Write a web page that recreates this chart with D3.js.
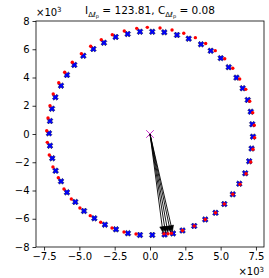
<!DOCTYPE html>
<html>
<head>
<meta charset="utf-8">
<script src="https://cdn.jsdelivr.net/npm/d3@7"></script>
<style>
  body { margin: 0; background: #fff; }
  svg text { font-family: "DejaVu Sans", sans-serif; }
</style>
</head>
<body>
<div id="chart"></div>
<script>
// values in units of 10^3
const blueX = [-0.71, -1.58, -2.43, -3.26, -4.01, -4.72, -5.36, -5.88, -6.30, -6.70, -6.94, -7.08, -7.15,
    -7.08, -6.92, -6.68, -6.30, -5.88, -5.29, -4.67, -3.94, -3.19, -2.41, -1.56, -0.71, 0.16, 1.03, 1.63,
    2.30, 3.13, 3.91, 4.64, 5.26, 5.86, 6.32, 6.74, 7.02, 7.19, 7.29, 7.24, 7.13, 6.92, 6.56, 6.12, 5.57,
    5.01, 4.30, 3.61, 2.74, 1.91, 1.01, 0.16];
const blueY = [7.24, 7.08, 6.87, 6.46, 6.02, 5.54, 4.89, 4.18, 3.42, 2.60, 1.79, 0.92, 0.05,
    -0.83, -1.72, -2.60, -3.35, -4.13, -4.81, -5.45, -5.97, -6.42, -6.75, -7.03, -7.15, -7.15, -7.12, -7.04,
    -6.83, -6.51, -6.05, -5.58, -4.96, -4.27, -3.52, -2.78, -1.93, -1.03, -0.19, 0.69, 1.58, 2.41, 3.24, 3.99, 4.73,
    5.37, 5.89, 6.35, 6.75, 7.01, 7.20, 7.24];

const redX = [-0.94, -1.82, -2.67, -3.45, -4.20, -4.86, -5.50, -6.04, -6.46, -6.85, -7.08, -7.22, -7.31,
    -7.27, -7.13, -6.87, -6.49, -6.09, -5.57, -4.96, -4.23, -3.49, -2.69, -1.84, -0.99, 0.99, 1.27, 1.52,
    2.30, 3.13, 3.91, 4.64, 5.26, 5.86, 6.37, 6.80, 7.13, 7.29, 7.41, 7.38, 7.27, 7.06, 6.78, 6.35, 5.86,
    5.29, 4.62, 3.94, 3.21, 2.39, 1.56, 0.71, -0.19];
const redY = [7.48, 7.29, 7.03, 6.68, 6.21, 5.69, 5.08, 4.37, 3.63, 2.83, 2.00, 1.13, 0.23,
    -0.59, -1.49, -2.34, -3.09, -3.89, -4.60, -5.24, -5.78, -6.25, -6.66, -6.94, -7.08, -7.06, -7.06, -7.03,
    -6.83, -6.51, -6.05, -5.58, -4.96, -4.27, -3.56, -2.81, -1.98, -1.08, -0.26, 0.62, 1.51, 2.32, 3.16, 3.89, 4.65,
    5.33, 5.90, 6.41, 6.82, 7.13, 7.36, 7.50, 7.55];

const arrowX = [0.92, 1.10, 1.27, 1.45, 1.59];
const arrowY = [-6.98, -6.98, -6.96, -6.94, -6.90];

const xTicks = [-7.5, -5.0, -2.5, 0.0, 2.5, 5.0, 7.5];
const yTicks = [-8, -6, -4, -2, 0, 2, 4, 6, 8];

const width = 269;
const height = 278;
const margin = { top: 21, right: 5, bottom: 31, left: 36 };

const svg = d3.select('#chart')
    .append('svg')
    .attr('width', width)
    .attr('height', height);

const x = d3.scaleLinear().domain([-8.07, 8.07]).range([margin.left, width - margin.right]);
const y = d3.scaleLinear().domain([-8, 8]).range([height - margin.bottom, margin.top]);

const fmtMinus = s => s.replace('-', '\u2212');

// axes
const xAxis = d3.axisBottom(x).tickValues(xTicks).tickSize(3.5).tickPadding(2.5)
    .tickFormat(d => fmtMinus(d3.format('.1f')(d)));
const yAxis = d3.axisLeft(y).tickValues(yTicks).tickSize(3.5).tickPadding(3)
    .tickFormat(d => fmtMinus(String(d)));

const gx = svg.append('g').attr('transform', `translate(0,${y(-8)})`).call(xAxis);
const gy = svg.append('g').attr('transform', `translate(${x(-8.07)},0)`).call(yAxis);
[gx, gy].forEach(g => {
    g.select('.domain').remove();
    g.selectAll('.tick line').attr('stroke', '#000').attr('stroke-width', 0.8);
    g.selectAll('.tick text').attr('fill', '#000').attr('font-size', 10)
        .attr('font-family', '"DejaVu Sans", sans-serif');
});

// frame
svg.append('rect')
    .attr('x', x(-8.07)).attr('y', y(8))
    .attr('width', x(8.07) - x(-8.07)).attr('height', y(-8) - y(8))
    .attr('fill', 'none').attr('stroke', '#000').attr('stroke-width', 0.8);

// offset labels
svg.append('text').attr('x', x(-8.07)).attr('y', 16).attr('font-size', 10).text('\u00d710')
    .append('tspan').attr('font-size', 7).attr('dy', -4).text('3');
svg.append('text').attr('x', x(8.07)).attr('y', 275).attr('font-size', 10).attr('text-anchor', 'end')
    .text('\u00d710')
    .append('tspan').attr('font-size', 7).attr('dy', -3.5).text('3');

// title
const title = svg.append('text').attr('x', 150).attr('y', 14).attr('font-size', 10.5)
    .attr('text-anchor', 'middle');
title.append('tspan').text('I');
title.append('tspan').attr('font-size', 7).attr('dy', 2.5).text('\u0394\u2113');
title.append('tspan').attr('font-size', 5).attr('dy', 1.5).text('p');
title.append('tspan').attr('dy', -4).text(' = 123.81, C');
title.append('tspan').attr('font-size', 7).attr('dy', 2.5).text('\u0394\u2113');
title.append('tspan').attr('font-size', 5).attr('dy', 1.5).text('p');
title.append('tspan').attr('dy', -4).text(' = 0.08');

// blue filled X markers
const L = 3.1, a = 1.1;
const plus = [[-a, -L], [a, -L], [a, -a], [L, -a], [L, a], [a, a], [a, L], [-a, L], [-a, a], [-L, a], [-L, -a], [-a, -a]];
const xPath = 'M' + plus.map(p => p.join(',')).join('L') + 'Z';

const blue = blueX.map((v, i) => ({ x: v, y: blueY[i] }));
svg.append('g').selectAll('path').data(blue).enter()
    .append('path')
    .attr('d', xPath)
    .attr('transform', d => `translate(${x(d.x)},${y(d.y)}) rotate(45)`)
    .attr('fill', '#0000ff')
    .attr('stroke', '#000')
    .attr('stroke-width', 0.4);

// red dots
const red = redX.map((v, i) => ({ x: v, y: redY[i] }));
svg.append('g').selectAll('circle').data(red).enter()
    .append('circle')
    .attr('cx', d => x(d.x)).attr('cy', d => y(d.y))
    .attr('r', 1.7)
    .attr('fill', '#ff0000');

// origin marker
const ox = x(0), oy = y(0), m = 3.8;
svg.append('path')
    .attr('d', `M${ox - m},${oy - m}L${ox + m},${oy + m}M${ox - m},${oy + m}L${ox + m},${oy - m}`)
    .attr('stroke', '#cc33cc').attr('stroke-width', 1).attr('fill', 'none');

// arrows
const arrows = arrowX.map((v, i) => ({ x: v, y: arrowY[i] }));
const headLen = 6, headW = 2.5;
const ag = svg.append('g');
arrows.forEach(d => {
    const tx = x(d.x), ty = y(d.y);
    const dx = tx - ox, dy = ty - oy;
    const len = Math.sqrt(dx * dx + dy * dy);
    const ux = dx / len, uy = dy / len;
    const bx = tx - ux * headLen, by = ty - uy * headLen;
    ag.append('line')
        .attr('x1', ox).attr('y1', oy).attr('x2', bx).attr('y2', by)
        .attr('stroke', '#000').attr('stroke-width', 0.9);
    ag.append('path')
        .attr('d', `M${tx},${ty}L${bx - uy * headW},${by + ux * headW}L${bx + uy * headW},${by - ux * headW}Z`)
        .attr('fill', '#000').attr('stroke', '#000').attr('stroke-width', 0.5);
});
</script>
</body>
</html>
